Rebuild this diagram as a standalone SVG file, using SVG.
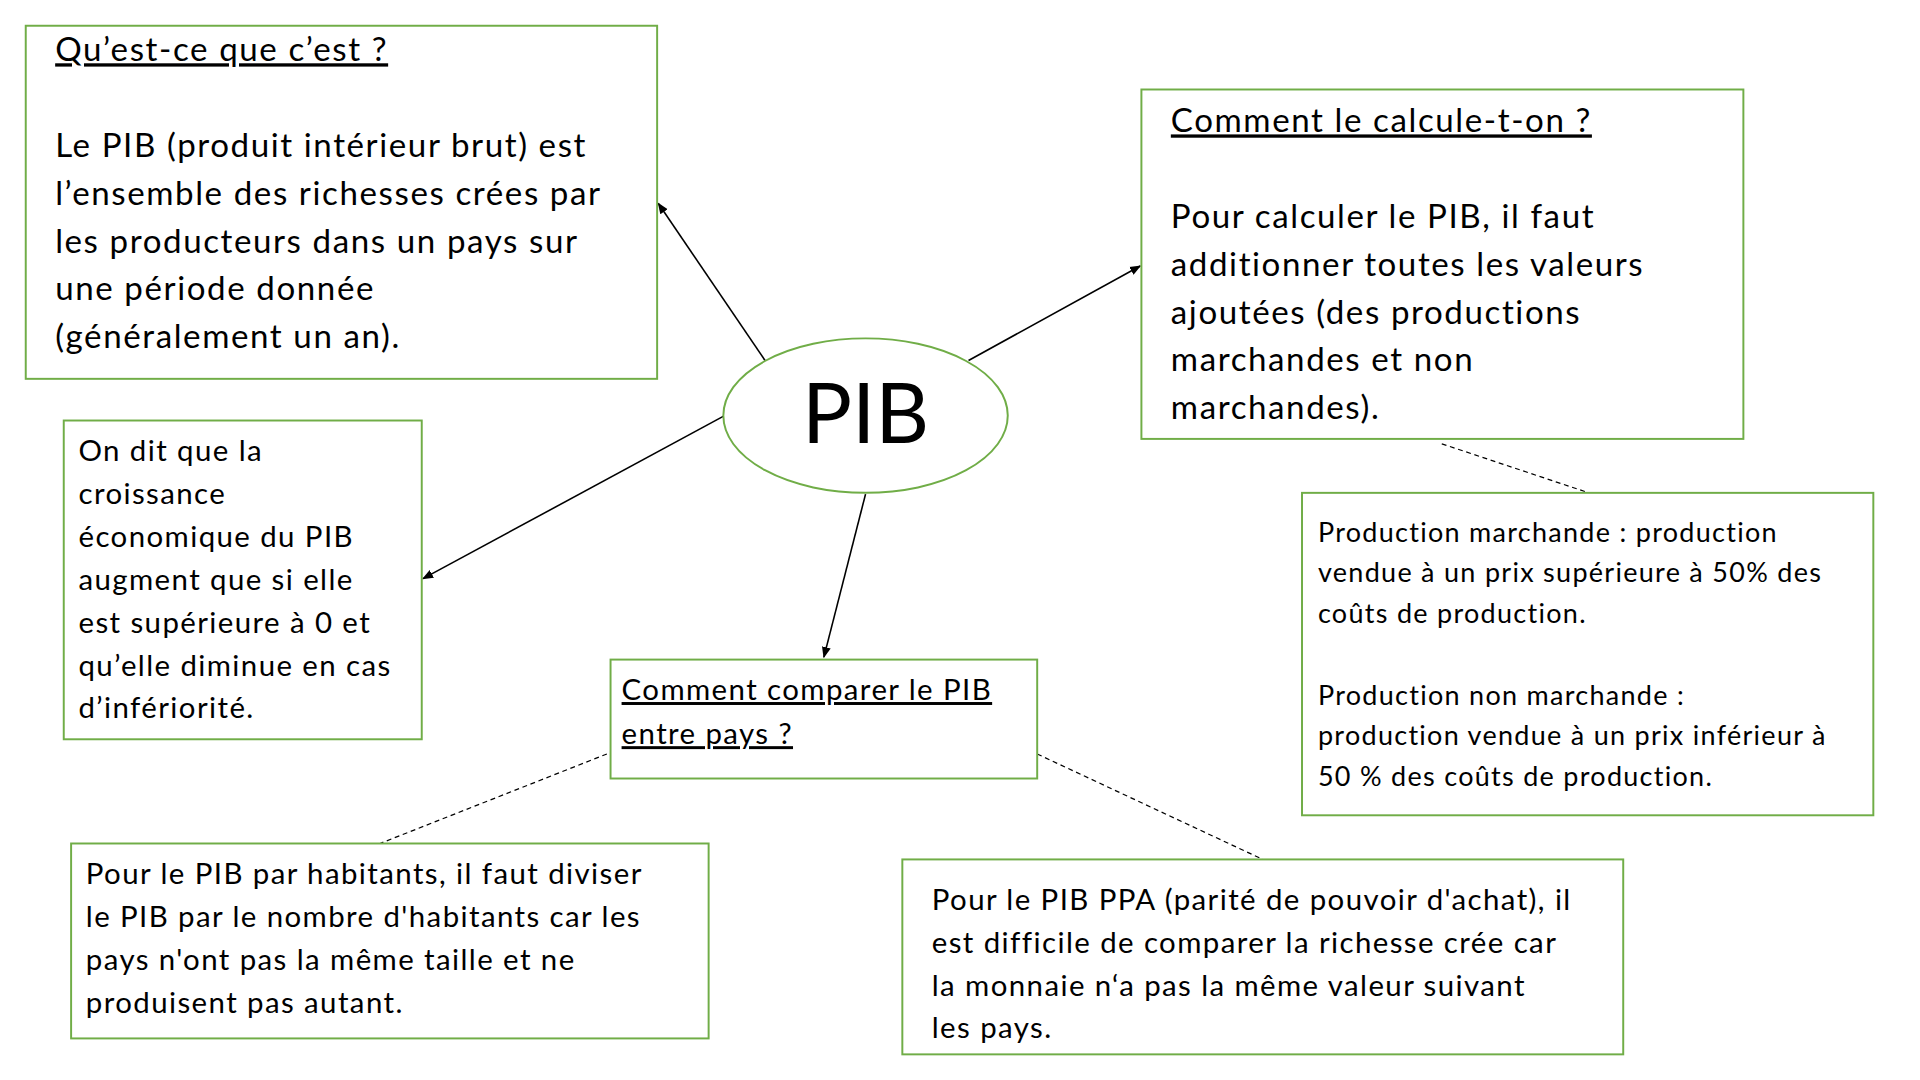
<svg xmlns="http://www.w3.org/2000/svg" width="1920" height="1080" viewBox="0 0 1920 1080">
<defs>
<marker id="ah" viewBox="0 0 10 10" refX="9" refY="5" markerWidth="7" markerHeight="7" orient="auto"><path d="M0,1 L10,5 L0,9 z" fill="#000"/></marker>
<style>
.box{fill:#fff;stroke:#70ad47;stroke-width:1.6}
.t{font-family:Lato,"Open Sans",sans-serif;fill:#000;letter-spacing:0.048em}
.a{stroke:#000;stroke-width:1.3;fill:none;marker-end:url(#ah)}
.d{stroke:#000;stroke-width:1;stroke-dasharray:4,3;fill:none}
.u{text-decoration:underline}
</style>
</defs>
<rect width="1920" height="1080" fill="#fff"/>
<g transform="scale(1.226)">
<g id="connectors">
<line class="a" x1="624" y1="294" x2="537" y2="166"/>
<line class="a" x1="790" y1="294" x2="930" y2="217"/>
<line class="a" x1="591" y1="339" x2="345" y2="472"/>
<line class="a" x1="706" y1="403" x2="672" y2="536"/>
<line class="d" x1="1176" y1="362" x2="1296" y2="402"/>
<line class="d" x1="495" y1="615" x2="310" y2="688"/>
<line class="d" x1="846" y1="615" x2="1030" y2="701"/>
</g>
<g id="pib"><ellipse cx="706" cy="339" rx="116" ry="63" fill="#fff" stroke="#70ad47" stroke-width="1.6"/>
<text x="706" y="361" font-size="68" text-anchor="middle" font-family="Lato,'Open Sans',sans-serif">PIB</text></g>
<g id="def"><rect class="box" x="21" y="21" width="515" height="288"/>
<text class="t" font-size="27"><tspan class="u" x="45" y="50">Qu’est-ce que c’est ?</tspan><tspan x="45" y="128">Le PIB (produit intérieur brut) est</tspan><tspan x="45" y="167">l’ensemble des richesses crées par</tspan><tspan x="45" y="206">les producteurs dans un pays sur</tspan><tspan x="45" y="245">une période donnée</tspan><tspan x="45" y="284">(généralement un an).</tspan></text></g>
<g id="calc"><rect class="box" x="931" y="73" width="491" height="285"/>
<text class="t" font-size="27"><tspan class="u" x="955" y="108">Comment le calcule-t-on ?</tspan><tspan x="955" y="186">Pour calculer le PIB, il faut</tspan><tspan x="955" y="225">additionner toutes les valeurs</tspan><tspan x="955" y="264">ajoutées (des productions</tspan><tspan x="955" y="303">marchandes et non</tspan><tspan x="955" y="342">marchandes).</tspan></text></g>
<g id="croissance"><rect class="box" x="52" y="343" width="292" height="260"/>
<text class="t" font-size="24"><tspan x="64" y="376">On dit que la</tspan><tspan x="64" y="411">croissance</tspan><tspan x="64" y="446">économique du PIB</tspan><tspan x="64" y="481">augment que si elle</tspan><tspan x="64" y="516">est supérieure à 0 et</tspan><tspan x="64" y="551">qu’elle diminue en cas</tspan><tspan x="64" y="586">d’infériorité.</tspan></text></g>
<g id="comparer"><rect class="box" x="498" y="538" width="348" height="97"/>
<text class="t u" font-size="24"><tspan x="507" y="571">Comment comparer le PIB</tspan><tspan x="507" y="607">entre pays ?</tspan></text></g>
<g id="production"><rect class="box" x="1062" y="402" width="466" height="263"/>
<text class="t" font-size="22"><tspan x="1075" y="442">Production marchande : production</tspan><tspan x="1075" y="475">vendue à un prix supérieure à 50% des</tspan><tspan x="1075" y="508">coûts de production.</tspan><tspan x="1075" y="575">Production non marchande :</tspan><tspan x="1075" y="608">production vendue à un prix inférieur à</tspan><tspan x="1075" y="641">50 % des coûts de production.</tspan></text></g>
<g id="habitants"><rect class="box" x="58" y="688" width="520" height="159"/>
<text class="t" font-size="24"><tspan x="70" y="721">Pour le PIB par habitants, il faut diviser</tspan><tspan x="70" y="756">le PIB par le nombre d'habitants car les</tspan><tspan x="70" y="791">pays n'ont pas la même taille et ne</tspan><tspan x="70" y="826">produisent pas autant.</tspan></text></g>
<g id="ppa"><rect class="box" x="736" y="701" width="588" height="159"/>
<text class="t" font-size="24"><tspan x="760" y="742">Pour le PIB PPA (parité de pouvoir d'achat), il</tspan><tspan x="760" y="777">est difficile de comparer la richesse crée car</tspan><tspan x="760" y="812">la monnaie n‘a pas la même valeur suivant</tspan><tspan x="760" y="847">les pays.</tspan></text></g>
</g>
</svg>
